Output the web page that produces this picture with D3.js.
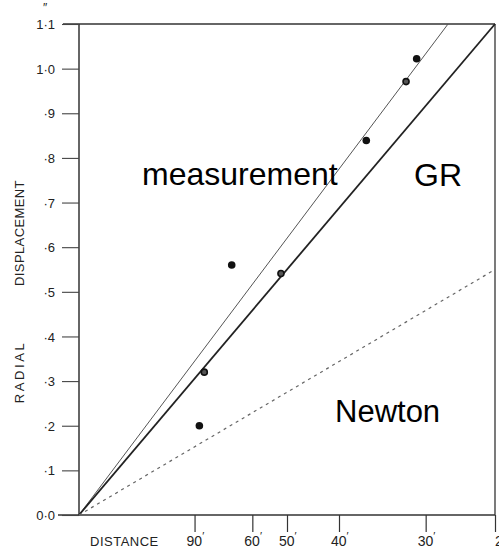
<!DOCTYPE html>
<html lang="en">
  <head>
    <meta charset="UTF-8" />
    <script src="https://d3js.org/d3.v7.min.js"></script>
    <title>Light deflection</title>
    <style>
      body { margin: 0; background: #fff; }
      text { font-family: Arial, "Liberation Sans", sans-serif; fill: #222; }
    </style>
  </head>
  <body>
    <script>
      // distances in arc minutes from the sun's centre, displacement in arc seconds
      let distTicks = [90, 60, 50, 40, 30, 25];
      let dispTicks = [0, 0.1, 0.2, 0.3, 0.4, 0.5, 0.6, 0.7, 0.8, 0.9, 1.0, 1.1];
      let dispLabels = ["0·0", "·1", "·2", "·3", "·4", "·5", "·6", "·7", "·8", "·9", "1·0", "1·1"];
      let starDist = [86.4, 83.0, 68.1, 51.5, 36.2, 31.8, 30.8];
      let starDisp = [0.2, 0.32, 0.56, 0.541, 0.839, 0.971, 1.022];
      let onLine = [false, true, false, true, false, true, false];
      // slope of displacement vs 1/distance
      let fits = [
        { name: "measurement", k: 31.0 },
        { name: "GR", k: 27.5 },
        { name: "Newton", k: 13.75 }
      ];

      let width = 499, height = 556;
      let svg = d3.select("body").append("svg")
        .attr("width", width).attr("height", height);

      let x = d3.scaleLinear().domain([0, 0.04]).range([79, 495]);
      let y = d3.scaleLinear().domain([0, 1.1]).range([515, 24]);

      // frame
      svg.append("line").attr("x1", 63).attr("x2", x(0.04))
        .attr("y1", y(1.1)).attr("y2", y(1.1))
        .attr("stroke", "#333").attr("stroke-width", 1.3);
      svg.append("line").attr("x1", x(0.04)).attr("x2", x(0.04))
        .attr("y1", y(1.1)).attr("y2", y(0))
        .attr("stroke", "#333").attr("stroke-width", 1.3);
      svg.append("line").attr("x1", 58).attr("x2", x(0.04))
        .attr("y1", y(0)).attr("y2", y(0))
        .attr("stroke", "#333").attr("stroke-width", 1.5);
      svg.append("line").attr("x1", x(0)).attr("x2", x(0))
        .attr("y1", y(1.1)).attr("y2", y(0))
        .attr("stroke", "#333").attr("stroke-width", 1.5);

      // y ticks
      let yAxis = d3.axisLeft(y).tickValues(dispTicks)
        .tickSize(17).tickFormat((d, i) => dispLabels[i]);
      let gy = svg.append("g").attr("transform", `translate(${x(0)},0)`).call(yAxis);
      gy.select(".domain").remove();
      gy.selectAll(".tick line").attr("stroke", "#444").attr("stroke-width", 1.1);
      gy.selectAll(".tick text").attr("x", -24).attr("dy", "0.35em")
        .attr("font-size", 13).attr("fill", "#222")
        .style("font-family", "Arial, sans-serif");
      svg.append("text").attr("x", 45).attr("y", 12).attr("font-size", 12)
        .attr("text-anchor", "middle").text("″");

      // x ticks (1/distance)
      let xAxis = d3.axisBottom(x).tickValues(distTicks.map(d => 1 / d))
        .tickSize(17).tickFormat("");
      let gx = svg.append("g").attr("transform", `translate(0,${y(0)})`).call(xAxis);
      gx.select(".domain").remove();
      gx.selectAll(".tick line").attr("stroke", "#333").attr("stroke-width", 1.2);
      svg.selectAll("text.xl").data(distTicks).enter().append("text")
        .attr("class", "xl")
        .attr("x", (d, i) => i == distTicks.length - 1 ? x(1 / d) : x(1 / d) - 8)
        .attr("y", 546).attr("font-size", 14)
        .text(d => d)
        .append("tspan").attr("dy", -6).attr("font-size", 11).text("′");
      svg.append("text").attr("x", 90).attr("y", 546).attr("font-size", 13)
        .attr("letter-spacing", 0.5).text("DISTANCE");

      // y title
      svg.append("text").attr("transform", "translate(24,372) rotate(-90)")
        .attr("text-anchor", "middle").attr("font-size", 13)
        .attr("letter-spacing", 2.6).text("RADIAL");
      svg.append("text").attr("transform", "translate(24,233) rotate(-90)")
        .attr("text-anchor", "middle").attr("font-size", 13)
        .attr("letter-spacing", 0.4).text("DISPLACEMENT");

      // fitted lines, clipped to the frame
      let lineEnd = k => {
        let xe = Math.min(0.04, 1.1 / k);
        return [[0, 0], [xe, k * xe]];
      };
      let line = d3.line().x(d => x(d[0])).y(d => y(d[1]));
      svg.append("path").attr("d", line(lineEnd(fits[0].k)))
        .attr("fill", "none").attr("stroke", "#555").attr("stroke-width", 1);
      svg.append("path").attr("d", line(lineEnd(fits[1].k)))
        .attr("fill", "none").attr("stroke", "#222").attr("stroke-width", 1.8);
      svg.append("path").attr("d", line(lineEnd(fits[2].k)))
        .attr("fill", "none").attr("stroke", "#666").attr("stroke-width", 1.2)
        .attr("stroke-dasharray", "3,4");

      // star points
      svg.selectAll("circle.star").data(starDist).enter().append("circle")
        .attr("class", "star")
        .attr("cx", d => x(1 / d))
        .attr("cy", (d, i) => y(starDisp[i]))
        .attr("r", (d, i) => onLine[i] ? 3 : 3.8)
        .attr("fill", (d, i) => onLine[i] ? "#555" : "#111")
        .attr("stroke", "#111")
        .attr("stroke-width", (d, i) => onLine[i] ? 1.6 : 0);

      // curve labels
      svg.append("text").attr("x", 142).attr("y", 185).attr("font-size", 32)
        .style("fill", "#000").text(fits[0].name);
      svg.append("text").attr("x", 414).attr("y", 186).attr("font-size", 32)
        .style("fill", "#000").text(fits[1].name);
      svg.append("text").attr("x", 335).attr("y", 422).attr("font-size", 31)
        .style("fill", "#000").text(fits[2].name);
    </script>
  </body>
</html>
